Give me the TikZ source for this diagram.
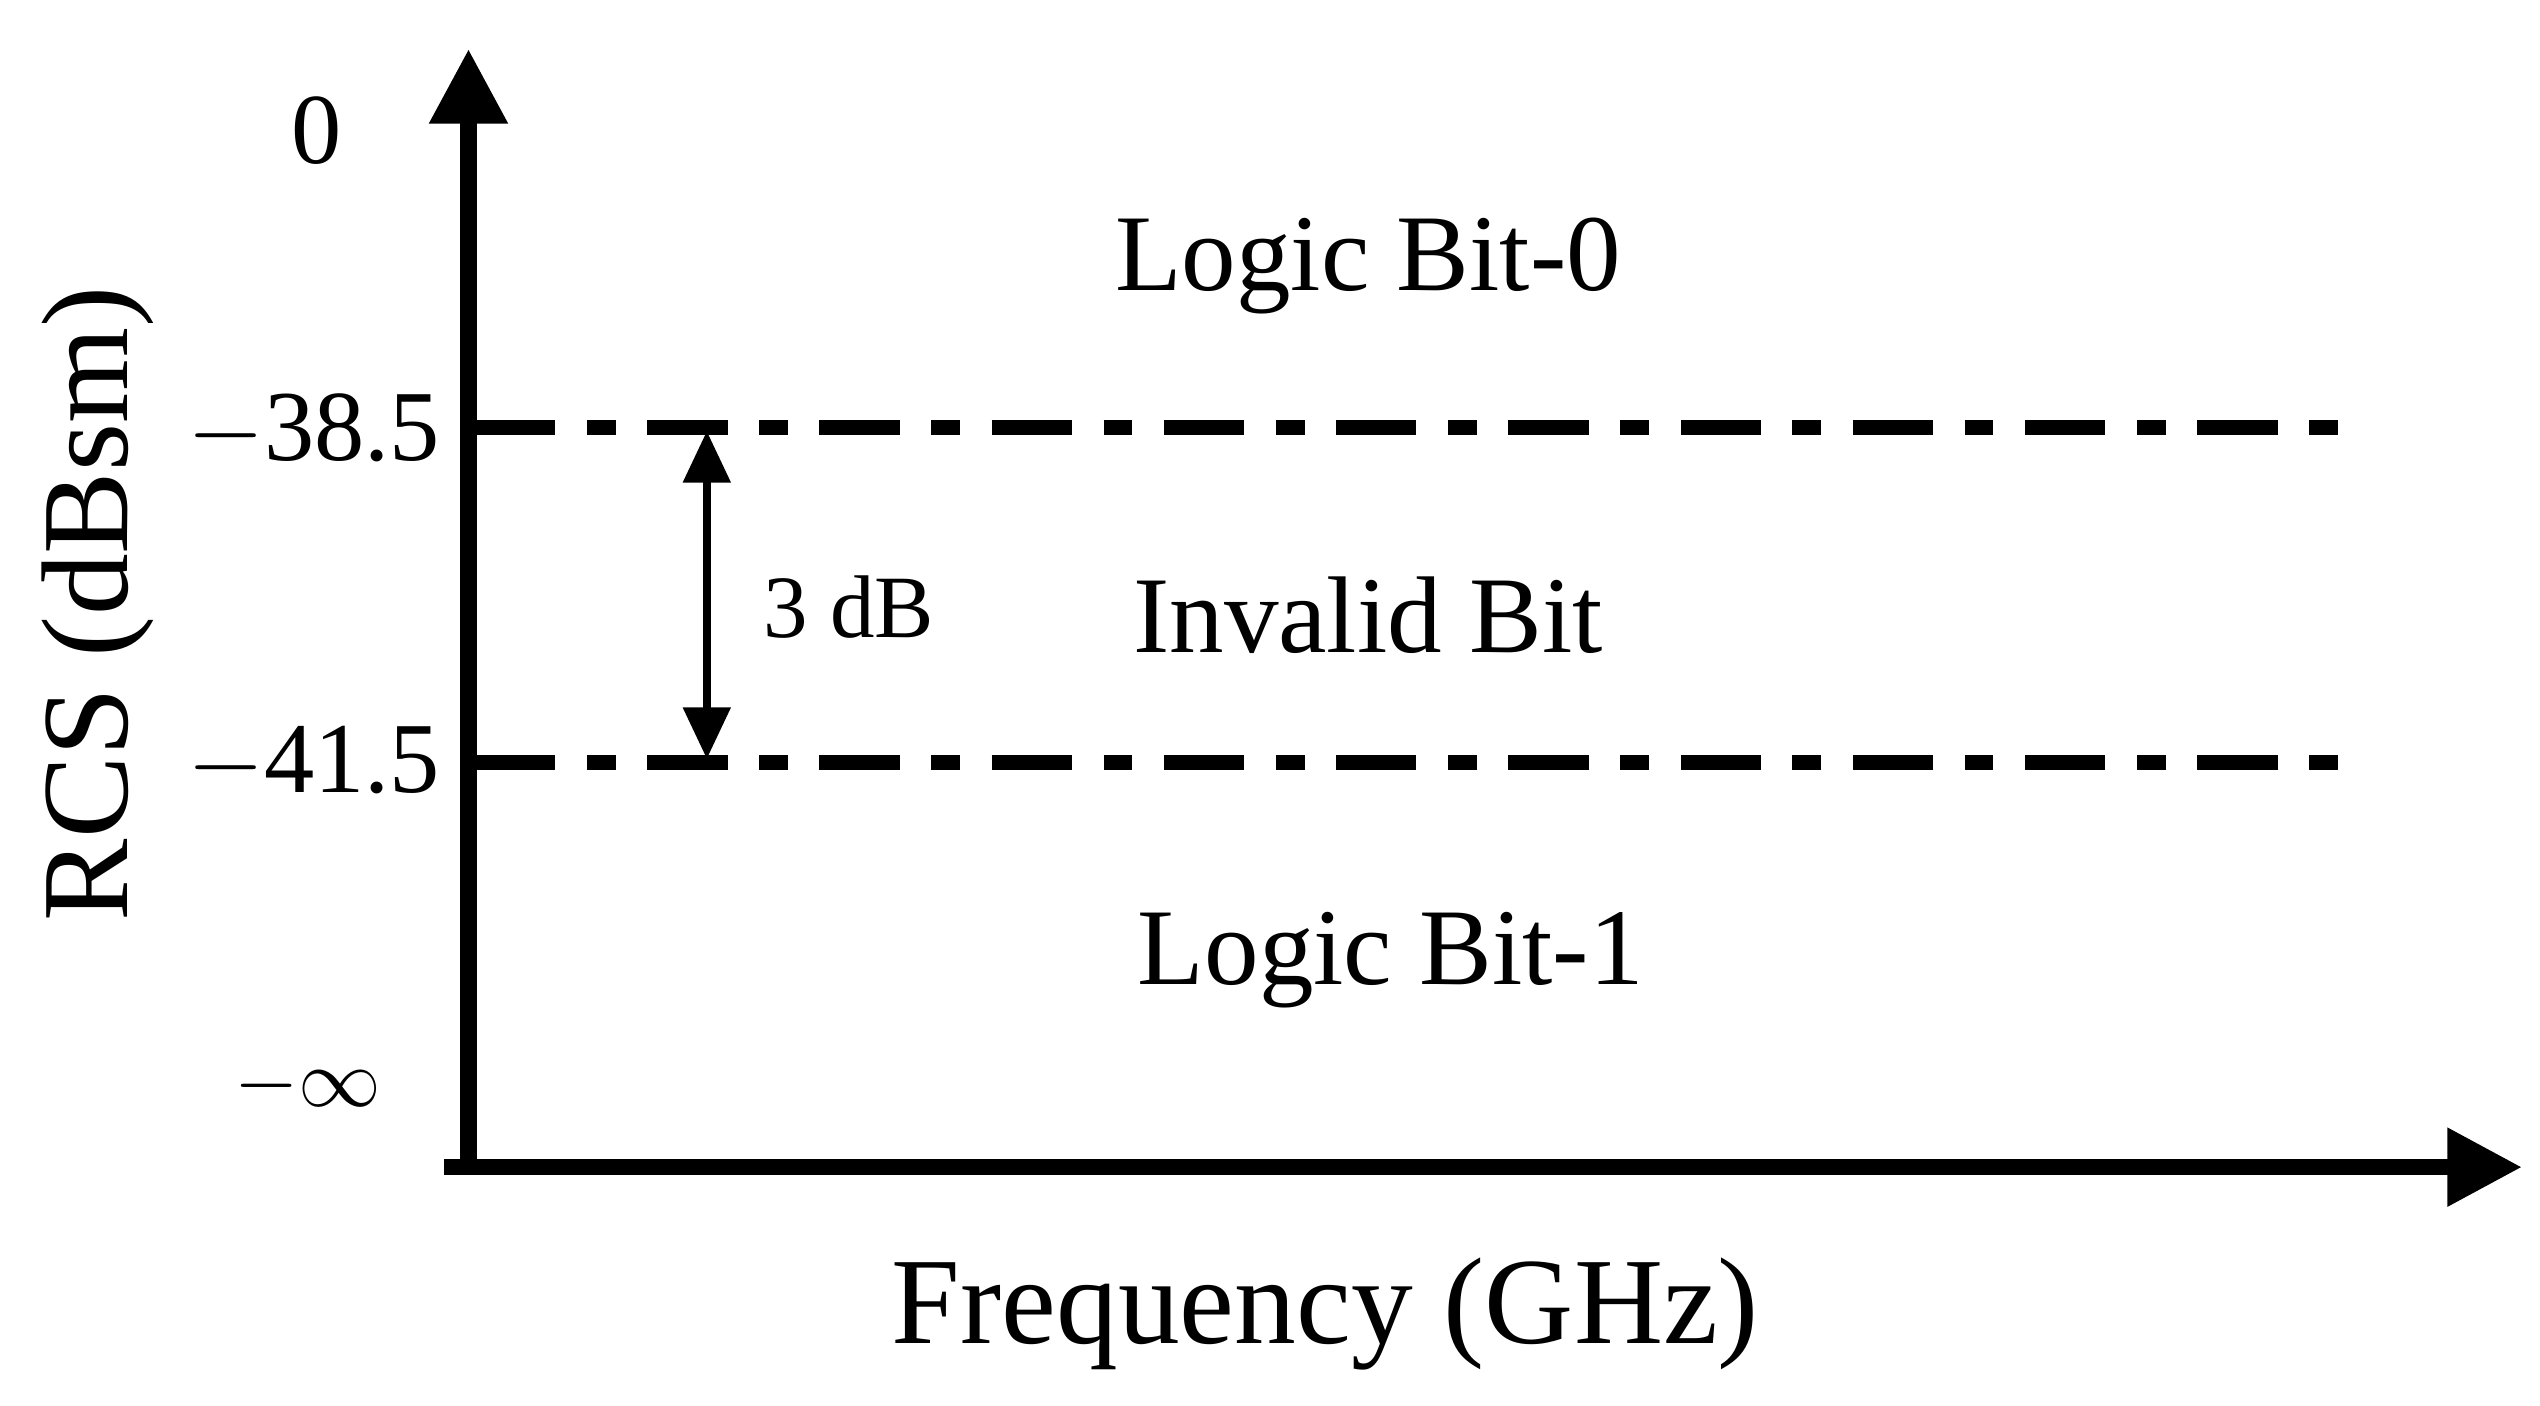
\documentclass[tikz,border=0pt]{standalone}
\usepackage{fontspec}
\setmainfont{Liberation Serif}
\usetikzlibrary{arrows.meta}
\begin{document}
\begin{tikzpicture}[x=0.01cm,y=-0.01cm,
  axis/.style={line width=2.8pt,-{Triangle[width=13pt,length=13pt]}},
  lvl/.style={line width=2.6pt,dash pattern=on 14pt off 5.5pt on 5pt off 5.5pt},
  lab/.style={font=\fontsize{19}{22}\selectfont},
  tick/.style={font=\fontsize{17.5}{20}\selectfont,anchor=east}]
\useasboundingbox (0,0) rectangle (1556,861);
\coordinate (ytop) at (287,30);
\coordinate (xend) at (1545,715);
\coordinate (ob) at (272,715);
\draw[axis] (ob) -- (xend);
\draw[axis] (287,719) -- (ytop);
\coordinate (a1) at (291,262); \coordinate (a2) at (1432,262);
\coordinate (b1) at (291,467); \coordinate (b2) at (1432,467);
\draw[lvl] (a1) -- (a2);
\draw[lvl] (b1) -- (b2);
\coordinate (d1) at (433,264); \coordinate (d2) at (433,465);
\draw[line width=1.5pt,{Triangle[width=8pt,length=9pt]}-{Triangle[width=8pt,length=9pt]}] (d1) -- (d2);
\node[font=\fontsize{15.5}{18}\selectfont] (db) at (520,372) {3 dB};
\node[tick] (t0) at (222,80) {0};
\node[tick] (t1) at (282,264) {$-$38.5};
\node[tick] (t2) at (282,468) {$-$41.5};
\node[tick,font=\fontsize{15}{18}\selectfont] (t3) at (246,665) {$-\infty$};
\node[lab] (l0) at (838,163) {Logic Bit-0};
\node[lab] (l1) at (838,377) {Invalid Bit};
\node[lab] (l2) at (852,588) {Logic Bit-1};
\node[font=\fontsize{21.5}{24}\selectfont,rotate=90] (yl) at (60,370) {RCS (dBsm)};
\node[font=\fontsize{21.5}{24}\selectfont] (xl) at (812,805) {Frequency (GHz)};
\end{tikzpicture}
\end{document}
